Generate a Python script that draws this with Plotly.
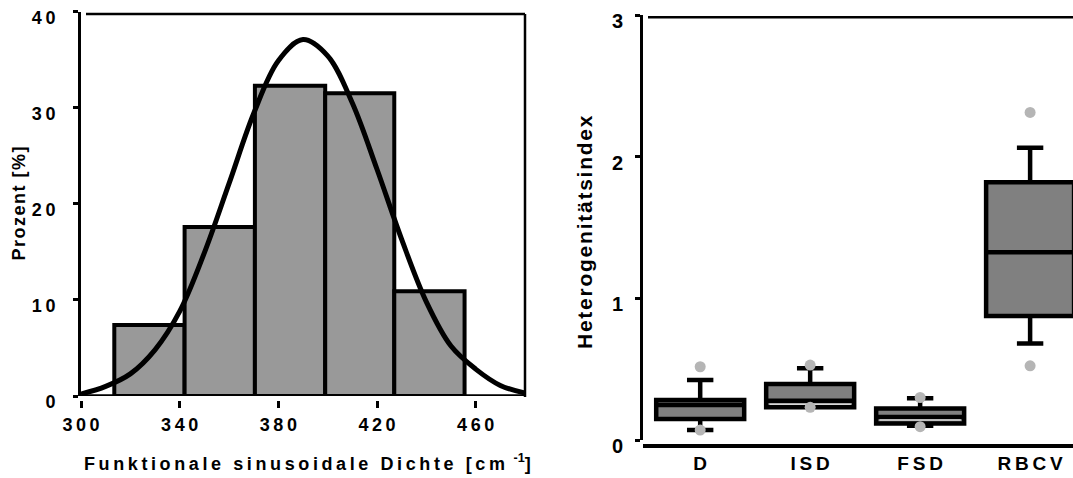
import plotly.graph_objects as go

# ---------------- data ----------------
# left panel: histogram of functional sinusoidal density
BIN_EDGES = [313.5, 342.0, 370.5, 399.0, 427.0, 455.5]
PERCENT = [7.4, 17.6, 32.3, 31.5, 10.9]
CURVE_X = [300, 310, 320, 330, 340, 350, 360, 370, 380, 390, 400, 410, 420, 430, 440, 450, 460, 470, 480]
CURVE_Y = [0.2, 1.0, 2.3, 4.8, 8.8, 14.9, 22.1, 29.4, 34.9, 37.1, 35.4, 30.5, 23.6, 16.3, 9.8, 5.2, 2.8, 1.1, 0.3]
X_TICKS = [300, 340, 380, 420, 460]
Y_TICKS_LEFT = [0, 10, 20, 30, 40]

# right panel: box plots of heterogeneity index
CATEGORIES = ["D", "ISD", "FSD", "RBCV"]
Q1 = [0.148, 0.231, 0.116, 0.875]
MEDIAN = [0.247, 0.277, 0.162, 1.325]
Q3 = [0.282, 0.395, 0.222, 1.820]
LOWER = [0.071, 0.231, 0.100, 0.682]
UPPER = [0.423, 0.506, 0.294, 2.063]
MEAN = [None, 0.252, 0.141, None]
P_LOW = [0.070, 0.231, 0.094, 0.524]
P_HIGH = [0.517, 0.529, 0.300, 2.312]
Y_TICKS_RIGHT = [0, 1, 2, 3]

# ---------------- helpers ----------------
W, H = 1073, 478
FONT = "Liberation Sans, Arial, sans-serif"
THIN = "\u2009"
HAIR = "\u200a"


def fx(px):
    return px / W


def fy(py):
    return 1 - py / H


def spaced(s, sep=THIN):
    return sep.join(list(s))


fig = go.Figure()

# histogram bars
centers = [(a + b) / 2 for a, b in zip(BIN_EDGES[:-1], BIN_EDGES[1:])]
widths = [b - a for a, b in zip(BIN_EDGES[:-1], BIN_EDGES[1:])]
fig.add_trace(go.Bar(
    x=centers, y=PERCENT, width=widths,
    marker=dict(color="#999999", line=dict(color="black", width=4)),
    xaxis="x", yaxis="y", hoverinfo="skip",
))
fig.add_trace(go.Scatter(
    x=CURVE_X, y=CURVE_Y, mode="lines",
    line=dict(color="black", width=5, shape="spline", smoothing=1.0),
    xaxis="x", yaxis="y", hoverinfo="skip",
))

# box plots
pos = list(range(len(CATEGORIES)))
fig.add_trace(go.Box(
    x=pos, q1=Q1, median=MEDIAN, q3=Q3, lowerfence=LOWER, upperfence=UPPER,
    width=0.8, whiskerwidth=0.3, fillcolor="#808080",
    line=dict(color="black", width=4.5), boxpoints=False,
    xaxis="x2", yaxis="y2", orientation="v", hoverinfo="skip",
))
mx, my = [], []
for i, m in enumerate(MEAN):
    if m is not None:
        mx += [i - 0.37, i + 0.37, None]
        my += [m, m, None]
fig.add_trace(go.Scatter(
    x=mx, y=my, mode="lines", line=dict(color="#d8d8d8", width=1.5),
    xaxis="x2", yaxis="y2", hoverinfo="skip",
))
fig.add_trace(go.Scatter(
    x=pos + pos, y=P_HIGH + P_LOW, mode="markers",
    marker=dict(color="#b5b5b5", size=11),
    xaxis="x2", yaxis="y2", hoverinfo="skip",
))

tick_font_l = dict(family=FONT, size=18, color="black", weight="bold")
tick_font_r = dict(family=FONT, size=20, color="black", weight="bold")
cat_font = dict(family=FONT, size=19, color="black", weight="bold")

fig.update_layout(
    template="none",
    width=W, height=H,
    margin=dict(l=0, r=0, t=0, b=0, pad=0),
    paper_bgcolor="white", plot_bgcolor="white",
    showlegend=False,
    xaxis=dict(
        domain=[fx(81), fx(525)], range=[300, 480], automargin=False,
        anchor="free", position=fy(400),
        showline=False, showgrid=False, zeroline=False,
        ticks="outside", ticklen=7, tickwidth=2.5, tickcolor="black",
        tickvals=X_TICKS, ticktext=[spaced(str(v)) for v in X_TICKS],
        tickfont=tick_font_l, ticklabelstandoff=1, ticklabeloverflow="allow",
    ),
    yaxis=dict(
        domain=[fy(396), fy(11.7)], range=[0, 40], automargin=False,
        anchor="x",
        showline=True, linewidth=3, linecolor="black",
        showgrid=False, zeroline=False,
        ticks="outside", ticklen=5, tickwidth=2.5, tickcolor="black",
        tickvals=Y_TICKS_LEFT, ticktext=[spaced(str(v)) for v in Y_TICKS_LEFT],
        tickfont=tick_font_l, ticklabelstandoff=14, ticklabelshift=6,
        ticklabeloverflow="allow",
    ),
    xaxis2=dict(
        domain=[fx(643), 1], range=[-0.52, 3.39], automargin=False,
        anchor="free", position=fy(445.7),
        showline=True, linewidth=3.5, linecolor="black",
        showgrid=False, zeroline=False, ticks="",
        tickvals=pos, ticktext=[spaced(c) for c in CATEGORIES],
        tickfont=cat_font, ticklabelstandoff=0, ticklabeloverflow="allow",
    ),
    yaxis2=dict(
        domain=[fy(440), fy(15)], range=[0, 3], automargin=False,
        anchor="x2",
        showline=True, linewidth=3, linecolor="black",
        showgrid=False, zeroline=False,
        ticks="outside", ticklen=5, tickwidth=2.5, tickcolor="black",
        tickvals=Y_TICKS_RIGHT, ticktext=[str(v) for v in Y_TICKS_RIGHT],
        tickfont=tick_font_r, ticklabelstandoff=8, ticklabelshift=6,
        ticklabeloverflow="allow",
    ),
    shapes=[
        # left panel baseline and frame
        dict(type="line", xref="x domain", yref="y", x0=0, x1=1, y0=0, y1=0,
             line=dict(color="black", width=3.5)),
        dict(type="line", xref="paper", yref="paper", x0=fx(86), x1=fx(525), y0=fy(14), y1=fy(14),
             line=dict(color="black", width=2.5)),
        dict(type="line", xref="paper", yref="paper", x0=fx(525), x1=fx(525), y0=fy(14), y1=fy(397),
             line=dict(color="black", width=2.5)),
        # right panel top frame
        dict(type="line", xref="paper", yref="paper", x0=fx(648), x1=1, y0=fy(17.3), y1=fy(17.3),
             line=dict(color="black", width=2.5)),
    ],
    annotations=[
        dict(text=spaced("Prozent [%]", HAIR), xref="paper", yref="paper", x=fx(18), y=fy(203.5),
             xanchor="center", yanchor="middle",
             textangle=-90, showarrow=False, font=dict(family=FONT, size=18, color="black", weight="bold")),
        dict(text=spaced("Funktionale sinusoidale Dichte [cm ") + "<sup>-1</sup>]",
             xref="paper", yref="paper", x=fx(307), y=fy(462), showarrow=False,
             xanchor="center", yanchor="middle",
             font=dict(family=FONT, size=18, color="black", weight="bold")),
        dict(text=spaced("Heterogenitätsindex", HAIR), xref="paper", yref="paper", x=fx(585), y=fy(232),
             xanchor="center", yanchor="middle",
             textangle=-90, showarrow=False, font=dict(family=FONT, size=21, color="black", weight="bold")),
    ],
)

fig.write_html("out.html")
